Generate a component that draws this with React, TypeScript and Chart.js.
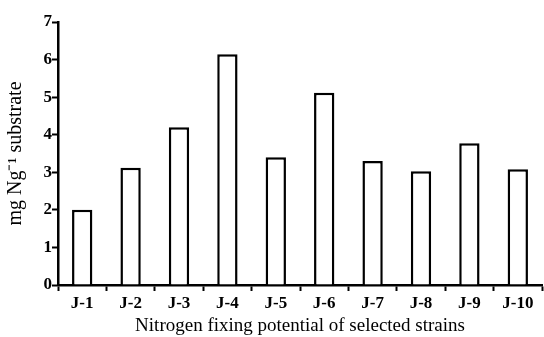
import React, { useEffect, useRef } from "react";
import { Chart, registerables } from "chart.js";

Chart.register(...registerables);

const categories = ["J-1", "J-2", "J-3", "J-4", "J-5", "J-6", "J-7", "J-8", "J-9", "J-10"];
const values = [2.0, 3.12, 4.2, 6.14, 3.4, 5.12, 3.3, 3.03, 3.77, 3.08];
const yTitle = "mg Ng\u207B\u00B9 substrate";
const xTitle = "Nitrogen fixing potential of selected strains";

export default function App() {
  const ref = useRef<HTMLCanvasElement | null>(null);
  useEffect(() => {
    if (!ref.current) return;
    const serif = "'Liberation Serif', 'Times New Roman', serif";
    const chart = new Chart(ref.current, {
      type: "bar",
      data: {
        labels: categories,
        datasets: [
          {
            data: values,
            backgroundColor: "#ffffff",
            borderColor: "#000000",
            borderWidth: 2.5,
            barPercentage: 0.42,
            categoryPercentage: 1,
          },
        ],
      },
      options: {
        animation: false,
        responsive: false,
        maintainAspectRatio: false,
        layout: { padding: { top: 22, right: 2, left: 4, bottom: 0 } },
        plugins: { legend: { display: false }, tooltip: { enabled: false } },
        scales: {
          x: {
            border: { display: true, color: "#000", width: 2.5 },
            grid: { display: true, drawOnChartArea: false, drawTicks: true, tickLength: 6, tickWidth: 2, tickColor: "#000", offset: true },
            ticks: { color: "#000", font: { family: serif, size: 17, weight: "bold" }, padding: 2, maxRotation: 0 },
            title: { display: true, text: xTitle, color: "#000", font: { family: serif, size: 19 }, padding: { top: 0, bottom: 0 } },
            afterFit: (s: any) => { s.height = 52; },
          },
          y: {
            min: 0,
            max: 7,
            border: { display: true, color: "#000", width: 2.5 },
            grid: { display: true, drawOnChartArea: false, drawTicks: true, tickLength: 6, tickWidth: 2, tickColor: "#000" },
            ticks: { stepSize: 1, color: "#000", font: { family: serif, size: 17, weight: "bold" }, padding: 0 },
            title: { display: true, text: yTitle, color: "#000", font: { family: serif, size: 20 }, padding: { top: 0, bottom: 5 } },
            afterFit: (s: any) => { s.width = 54; },
          },
        },
      },
    });
    return () => chart.destroy();
  }, []);
  return (
    <div style={{ position: "fixed", left: 0, top: 0, width: 544, height: 337, background: "#fff" }}>
      <canvas ref={ref} width={544} height={337} style={{ width: 544, height: 337 }} />
    </div>
  );
}
